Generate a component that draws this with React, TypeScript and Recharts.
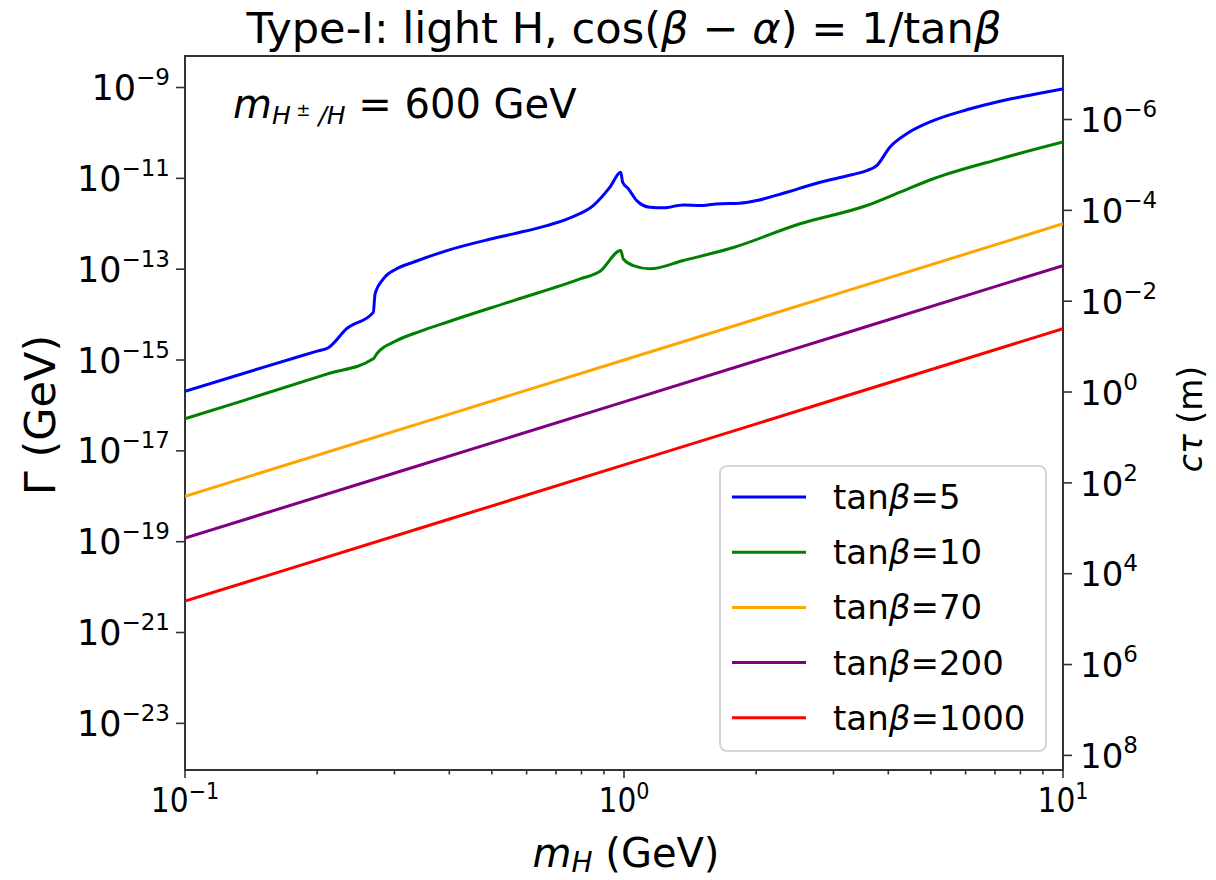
import React from 'react';
import { LineChart, Line, XAxis, YAxis, ReferenceArea, Legend, Label } from 'recharts';

// hbar*c in GeV*m, used for the c*tau axis on the right
const HBARC = 1.973e-16;

const Y_MIN = 9.4e-25;
const Y_MAX = 4.94e-9;

const massMajor = [0.1, 1, 10];
const massTicks = [0.1, 0.2, 0.3, 0.4, 0.5, 0.6, 0.7, 0.8, 0.9, 1, 2, 3, 4, 5, 6, 7, 8, 9, 10];
const widthTicks = [1e-9, 1e-11, 1e-13, 1e-15, 1e-17, 1e-19, 1e-21, 1e-23];
const ctauExps = [-6, -4, -2, 0, 2, 4, 6, 8];

// [m_H (GeV), Gamma (GeV)]
const tb5: [number, number][] = [
  [0.1, 2.04e-16], [0.15, 6.8e-16], [0.2, 1.57e-15], [0.212, 1.86e-15],
  [0.2335, 4.9e-15], [0.2685, 1.12e-14],
  [0.271, 2.86e-14], [0.283, 6.1e-14], [0.3035, 1.02e-13], [0.331, 1.42e-13],
  [0.395, 2.57e-13], [0.487, 4.4e-13], [0.56, 6.0e-13], [0.667, 9.1e-13],
  [0.766, 1.44e-12], [0.851, 2.52e-12], [0.929, 6.4e-12], [0.983, 1.36e-11],
  [0.993, 8.2e-12], [1.023, 5.9e-12], [1.069, 3.24e-12], [1.146, 2.31e-12],
  [1.229, 2.24e-12], [1.365, 2.6e-12], [1.49, 2.52e-12], [1.626, 2.74e-12],
  [1.837, 2.83e-12], [2.006, 3.24e-12], [2.306, 4.7e-12], [2.748, 7.8e-12],
  [3.3, 1.2e-11], [3.572, 1.48e-11], [3.764, 1.91e-11], [4.036, 4.9e-11], [4.406, 9.6e-11],
  [5.066, 1.87e-10], [6.035, 3.23e-10], [7.186, 4.99e-10], [8.557, 7.0e-10],
  [10, 9.3e-10],
];
const tb10: [number, number][] = [
  [0.1, 5.1e-17], [0.1358, 1.28e-16], [0.2103, 4.9e-16], [0.2685, 1.06e-15],
  [0.2733, 1.37e-15], [0.3035, 2.67e-15], [0.343, 4.27e-15], [0.395, 6.8e-15],
  [0.56, 2.03e-14], [0.794, 6.1e-14], [0.882, 9.0e-14], [0.983, 2.57e-13],
  [0.996, 1.69e-13], [1.05, 1.2e-13], [1.146, 1.02e-13], [1.365, 1.55e-13],
  [1.774, 3.0e-13], [2.517, 1.0e-12], [3.572, 2.52e-12], [4.253, 4.97e-12],
  [5.066, 9.8e-12], [7.186, 2.69e-11], [10, 6.3e-11],
];
const tb70: [number, number][] = [[0.1, 1.0e-18], [1, 1.0e-15], [10, 1.0e-12]];
const tb200: [number, number][] = [[0.1, 1.2e-19], [1, 1.2e-16], [10, 1.2e-13]];
const tb1000: [number, number][] = [[0.1, 4.9e-21], [1, 4.9e-18], [10, 4.9e-15]];

const seriesNames = ['5', '10', '70', '200', '1000'];
const seriesColors = ['#0000ff', '#008000', '#ffa500', '#800080', '#ff0000'];
const seriesData = [tb5, tb10, tb70, tb200, tb1000];

const SANS = '"DejaVu Sans", sans-serif';
const COND = '"DejaVu Sans Condensed", "DejaVu Sans", sans-serif';

const exp10 = (v: number) => Math.round(Math.log10(v));
const fmtExp = (e: number) => (e < 0 ? '\u2212' + Math.abs(e) : String(e));

const XTick = (props: any) => {
  const { x, y, payload } = props;
  const major = massMajor.includes(payload.value);
  return (
    <g>
      <line x1={x} x2={x} y1={y} y2={y + (major ? 8 : 4.5)} stroke="#333" strokeWidth={1.6} />
      {major && (
        <text x={x} y={y + 42} textAnchor="middle" fontFamily={COND} fontSize={33} fill="#000">
          10<tspan dy={-13} fontSize={23}>{fmtExp(exp10(payload.value))}</tspan>
        </text>
      )}
    </g>
  );
};

const YTickLeft = (props: any) => {
  const { x, y, payload } = props;
  return (
    <g>
      <line x1={x - 9} x2={x} y1={y} y2={y} stroke="#333" strokeWidth={1.6} />
      <text x={x - 15} y={y + 12.5} textAnchor="end" fontFamily={SANS} fontSize={35} fill="#000">
        10<tspan dy={-15} fontSize={23}>{fmtExp(exp10(payload.value))}</tspan>
      </text>
    </g>
  );
};

const YTickRight = (props: any) => {
  const { x, y, payload } = props;
  const k = Math.round(Math.log10(HBARC / payload.value));
  return (
    <g>
      <line x1={x} x2={x + 9} y1={y} y2={y} stroke="#333" strokeWidth={1.6} />
      <text x={x + 17} y={y + 12.7} textAnchor="start" fontFamily={SANS} fontSize={34} fill="#000">
        10<tspan dy={-15} fontSize={23}>{fmtExp(k)}</tspan>
      </text>
    </g>
  );
};

const FrameTexts = (props: any) => {
  const vb = props.viewBox || { x: 185, y: 56, width: 878, height: 714 };
  return (
    <g>
      <text x={vb.x + vb.width / 2} y={43} textAnchor="middle" fontFamily={SANS} fontSize={43}
        fill="#000" textLength={755} lengthAdjust="spacingAndGlyphs">
        Type-I: light H, cos(<tspan fontStyle="italic">β</tspan> − <tspan fontStyle="italic">α</tspan>) = 1/tan<tspan fontStyle="italic">β</tspan>
      </text>
      <text x={vb.x + 48} y={118} fontFamily={SANS} fontSize={40} fill="#000">
        <tspan fontStyle="italic">m</tspan>
        <tspan fontStyle="italic" fontSize={25} dy={6}>H</tspan>
        <tspan fontSize={17} dy={-8}> ±</tspan>
        <tspan fontStyle="italic" fontSize={25} dy={8}> /H</tspan>
        <tspan dy={-6}> = 600 GeV</tspan>
      </text>
    </g>
  );
};

const LegendBox = () => (
  <div style={{ width: 328, height: 287, border: '2px solid #d6d6d6', borderRadius: 8, background: 'rgba(255,255,255,0.85)', boxSizing: 'border-box' }}>
    <svg width={324} height={283} style={{ display: 'block' }}>
      {seriesNames.map((n, i) => {
        const cy = 30 + i * 55.2;
        return (
          <g key={n}>
            <line x1={11} x2={85} y1={cy} y2={cy} stroke={seriesColors[i]} strokeWidth={3} />
            <text x={112} y={cy + 12} fontFamily={SANS} fontSize={34} fill="#000">
              tan<tspan fontStyle="italic">β</tspan>={n}
            </text>
          </g>
        );
      })}
    </svg>
  </div>
);

export default function App() {
  return (
    <div style={{ position: 'absolute', left: 0, top: 0, width: 1216, height: 880, background: '#fff' }}>
      <LineChart width={1216} height={880} margin={{ top: 56, right: 0, bottom: 0, left: 0 }}>
        <XAxis dataKey="m" type="number" scale="log" domain={[0.1, 10]} allowDataOverflow
          ticks={massTicks} interval={0} tick={<XTick />} tickLine={false} axisLine={false}
          tickSize={0} tickMargin={0} height={110}>
          <Label content={(p: any) => {
            const vb = p.viewBox;
            return (
              <text x={vb.x + vb.width / 2 + 2} y={867} textAnchor="middle" fontFamily={SANS} fontSize={40} fill="#000">
                <tspan fontStyle="italic">m</tspan>
                <tspan fontStyle="italic" fontSize={28} dy={5}>H</tspan>
                <tspan dy={-5}> (GeV)</tspan>
              </text>
            );
          }} />
        </XAxis>
        <YAxis yAxisId="l" type="number" scale="log" domain={[Y_MIN, Y_MAX]} allowDataOverflow
          ticks={widthTicks} interval={0} tick={<YTickLeft />} tickLine={false} axisLine={false}
          tickSize={0} tickMargin={0} width={185}>
          <Label content={(p: any) => {
            const vb = p.viewBox;
            const cx = 40;
            const cy = vb.y + vb.height / 2 + 2;
            return (
              <text x={cx} y={cy} transform={`rotate(-90 ${cx} ${cy})`} textAnchor="middle"
                dominantBaseline="central" fontFamily={SANS} fontSize={43} fill="#000">
                Γ (GeV)
              </text>
            );
          }} />
        </YAxis>
        <YAxis yAxisId="r" orientation="right" type="number" scale="log" domain={[Y_MIN, Y_MAX]}
          allowDataOverflow ticks={ctauExps.map((k) => HBARC / Math.pow(10, k))} interval={0}
          tick={<YTickRight />} tickLine={false} axisLine={false} tickSize={0} tickMargin={0} width={153}>
          <Label content={(p: any) => {
            const vb = p.viewBox;
            const cx = 1190;
            const cy = vb.y + vb.height / 2 + 6;
            return (
              <text x={cx} y={cy} transform={`rotate(-90 ${cx} ${cy})`} textAnchor="middle"
                dominantBaseline="central" fontFamily={SANS} fontSize={33} fill="#000">
                <tspan fontStyle="italic">cτ</tspan> (m)
              </text>
            );
          }} />
        </YAxis>
        <ReferenceArea yAxisId="l" x1={0.1} x2={10} y1={Y_MIN} y2={Y_MAX} fill="none" stroke="#333"
          strokeWidth={2} ifOverflow="visible" label={<FrameTexts />} />
        {seriesData.map((d, i) => (
          <Line key={seriesNames[i]} yAxisId="l" data={d.map(([m, g]) => ({ m, g }))} dataKey="g"
            name={`tanβ=${seriesNames[i]}`} type="monotoneX" stroke={seriesColors[i]} strokeWidth={3}
            dot={false} activeDot={false} isAnimationActive={false} />
        ))}
        <Legend layout="vertical" align="center" verticalAlign="middle" content={<LegendBox />}
          wrapperStyle={{ left: 719, top: 465, width: 328, height: 287 }} />
      </LineChart>
    </div>
  );
}
